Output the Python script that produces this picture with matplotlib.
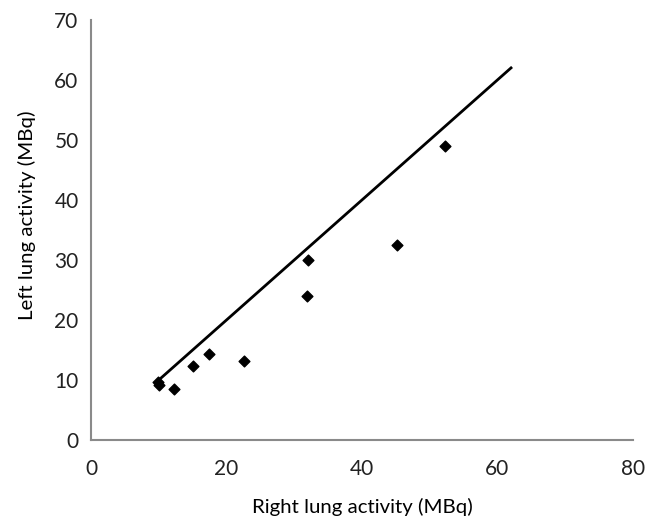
import matplotlib
matplotlib.use("Agg")
import matplotlib.pyplot as plt

# data
right_lung = [9.9, 10.1, 12.3, 15.0, 17.4, 22.6, 31.9, 32.0, 45.2, 52.3]
left_lung = [9.7, 9.1, 8.5, 12.3, 14.3, 13.2, 24.0, 30.0, 32.5, 49.0]
line_x = [10, 62]
line_y = [10, 62]

plt.rcParams["font.family"] = ["Lato", "DejaVu Sans"]

fig = plt.figure(figsize=(6.6, 5.18), dpi=100)
ax = fig.add_axes([0.138, 0.1506, 0.821, 0.811])

ax.plot(line_x, line_y, color="black", linewidth=2)
ax.scatter(right_lung, left_lung, marker="D", s=30, color="black", zorder=3)

ax.set_xlim(0, 80)
ax.set_ylim(0, 70)
ax.set_xticks([0, 20, 40, 60, 80])
ax.set_yticks(range(0, 71, 10))
ax.tick_params(length=0, labelsize=15, colors="#222222")
ax.tick_params(axis="y", pad=9)
ax.tick_params(axis="x", pad=14)

for s in ["top", "right"]:
    ax.spines[s].set_visible(False)
for s in ["left", "bottom"]:
    ax.spines[s].set_color("#8a8a8a")
    ax.spines[s].set_linewidth(1.5)

ax.set_xlabel("Right lung activity (MBq)", fontsize=14.7, labelpad=13)
ax.set_ylabel("Left lung activity (MBq)", fontsize=14.7, labelpad=13)
ax.yaxis.label.set_y(0.536)

fig.savefig("out.png", dpi=100)
